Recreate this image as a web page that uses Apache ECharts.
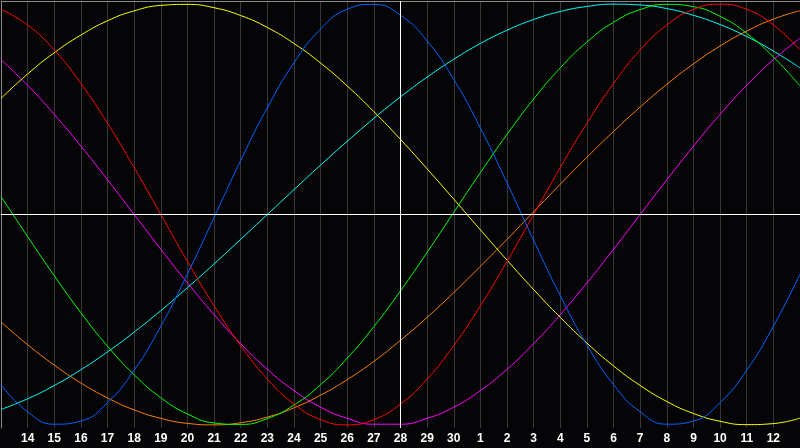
<!DOCTYPE html>
<html>
<head>
<meta charset="utf-8">
<script src="https://cdn.jsdelivr.net/npm/echarts@6/dist/echarts.min.js"></script>
<style>
html,body{margin:0;padding:0;background:#050507;}
#chart{width:800px;height:448px;}
</style>
</head>
<body>
<div id="chart"></div>
<script>
// Day labels (first and last are edge days, not labelled)
const days = ['13','14','15','16','17','18','19','20','21','22','23','24','25','26','27','28','29','30',
              '1','2','3','4','5','6','7','8','9','10','11','12','13'];
const todayIndex = 15;

const redValues = [0.975,0.901,0.782,0.623,0.434,0.223,0,-0.223,-0.434,-0.623,-0.782,-0.901,-0.975,-1,-0.975,-0.901,
  -0.782,-0.623,-0.434,-0.223,0,0.223,0.434,0.623,0.782,0.901,0.975,1,0.975,0.901,0.782];
const blueValues = [-0.809,-0.938,-0.997,-0.982,-0.894,-0.740,-0.531,-0.283,-0.014,0.257,0.508,0.721,0.882,0.976,0.999,0.947,
  0.825,0.642,0.411,0.150,-0.123,-0.386,-0.620,-0.809,-0.938,-0.997,-0.982,-0.894,-0.740,-0.531,-0.283];
const greenValues = [0.086,-0.105,-0.291,-0.467,-0.626,-0.762,-0.871,-0.948,-0.991,-0.998,-0.970,-0.906,-0.809,-0.683,-0.533,-0.363,
  -0.180,0.010,0.199,0.381,0.549,0.697,0.820,0.914,0.974,0.999,0.988,0.942,0.861,0.749,0.611];
const yellowValues = [0.552,0.668,0.769,0.853,0.921,0.968,0.994,0.999,0.983,0.946,0.889,0.813,0.720,0.611,0.489,0.357,
  0.217,0.073,-0.073,-0.217,-0.357,-0.489,-0.611,-0.720,-0.813,-0.889,-0.946,-0.983,-0.999,-0.994,-0.968];
const cyanValues = [-0.927,-0.876,-0.813,-0.738,-0.653,-0.559,-0.457,-0.348,-0.235,-0.118,0,0.118,0.235,0.348,0.457,0.559,
  0.653,0.738,0.813,0.876,0.927,0.965,0.989,1.000,0.996,0.979,0.947,0.903,0.846,0.777,0.697];
const magentaValues = [0.736,0.614,0.476,0.325,0.165,0,-0.165,-0.325,-0.476,-0.614,-0.736,-0.837,-0.916,-0.969,-0.997,-0.997,
  -0.969,-0.916,-0.837,-0.736,-0.614,-0.476,-0.325,-0.165,0,0.165,0.325,0.476,0.614,0.736,0.837];
const orangeValues = [-0.511,-0.619,-0.716,-0.801,-0.872,-0.929,-0.969,-0.993,-1.000,-0.990,-0.963,-0.919,-0.859,-0.785,-0.698,-0.598,
  -0.489,-0.371,-0.246,-0.118,0.013,0.144,0.272,0.395,0.511,0.619,0.716,0.801,0.872,0.929,0.969];

const seriesDefs = [
  {name:'orange', data: orangeValues, color:'#ff8000'},
  {name:'magenta', data: magentaValues, color:'#ff00ff'},
  {name:'cyan', data: cyanValues, color:'#00ffff'},
  {name:'yellow', data: yellowValues, color:'#ffff00'},
  {name:'green', data: greenValues, color:'#00ff00'},
  {name:'red', data: redValues, color:'#ff0000'},
  {name:'blue', data: blueValues, color:'#0064ff'}
];

const chart = echarts.init(document.getElementById('chart'), null, {renderer:'canvas'});
const series = seriesDefs.map(s => ({
  name: s.name,
  type: 'line',
  data: s.data,
  smooth: 0.5,
  showSymbol: false,
  symbol: 'none',
  silent: true,
  lineStyle: {color: s.color, width: 1},
  itemStyle: {color: s.color},
  z: 3
}));
series.push({
  type: 'line',
  data: [],
  silent: true,
  markLine: {
    silent: true,
    symbol: ['none','none'],
    label: {show: false},
    lineStyle: {color: '#ffffff', width: 1, type: 'solid'},
    data: [{xAxis: todayIndex}, {yAxis: 0}],
    animation: false
  },
  z: 2
});

chart.setOption({
  backgroundColor: '#050507',
  animation: false,
  grid: {left: 1, right: 0, top: 1, bottom: 20, show: false},
  xAxis: [{
    type: 'category',
    data: days,
    boundaryGap: false,
    axisLine: {show: true, lineStyle: {color: '#8a8a8a', width: 1}},
    axisTick: {show: false},
    axisLabel: {
      interval: (idx) => idx > 0 && idx < days.length - 1,
      color: '#ffffff',
      fontWeight: 'bold',
      fontSize: 12,
      fontFamily: 'Liberation Sans, Arial, sans-serif',
      margin: 5
    },
    splitLine: {show: true, interval: 0, lineStyle: {color: '#383838', width: 1}}
  }, {
    type: 'category',
    data: days,
    position: 'top',
    boundaryGap: false,
    axisLine: {show: true, lineStyle: {color: '#8a8a8a', width: 1}},
    axisTick: {show: false},
    axisLabel: {show: false},
    splitLine: {show: false}
  }],
  yAxis: {
    type: 'value',
    min: -1.015,
    max: 1.015,
    axisLine: {show: true, lineStyle: {color: '#8a8a8a', width: 1}},
    axisTick: {show: false},
    axisLabel: {show: false},
    splitLine: {show: false}
  },
  series: series
});
</script>
</body>
</html>
